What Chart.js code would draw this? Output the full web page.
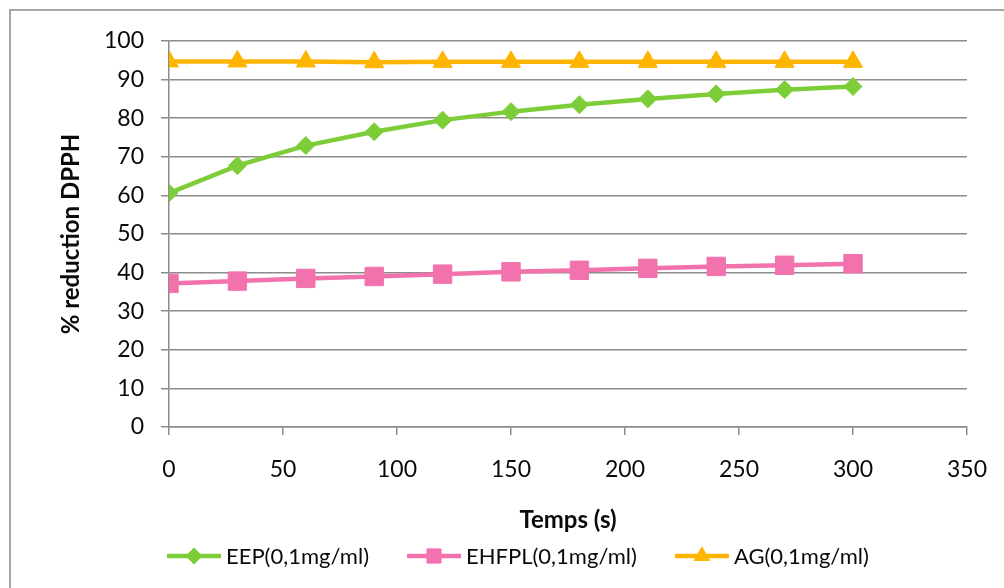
<!DOCTYPE html>
<html>
<head>
<meta charset="utf-8">
<script src="https://cdn.jsdelivr.net/npm/chart.js@4/dist/chart.umd.min.js"></script>
<style>
  html, body { margin: 0; padding: 0; background: #fff; }
  canvas { display: block; }
</style>
</head>
<body>
<canvas id="chart" width="1004" height="588"></canvas>
<script>
// temps (s)
const times = [0, 30, 60, 90, 120, 150, 180, 210, 240, 270, 300];
// % reduction DPPH
const eep = [60.6, 67.7, 72.9, 76.5, 79.5, 81.7, 83.5, 85.0, 86.3, 87.4, 88.2];
const ehfpl = [37.2, 37.8, 38.5, 39.0, 39.6, 40.2, 40.6, 41.1, 41.6, 41.9, 42.3];
const ag = [94.7, 94.7, 94.7, 94.5, 94.6, 94.6, 94.6, 94.6, 94.6, 94.6, 94.6];

const seriesNames = ['EEP(0,1mg/ml)', 'EHFPL(0,1mg/ml)', 'AG(0,1mg/ml)'];
const seriesColors = ['#7dcd39', '#f272ae', '#ffb400'];

const FONT = 'Lato';
const GRID = '#8c8c8c';
const TEXT = '#0a0a0a';

const toPoints = (vals) => times.map((t, i) => ({ x: t, y: vals[i] }));

function marker(ctx, style, x, y, r, color) {
    ctx.fillStyle = color;
    ctx.strokeStyle = color;
    ctx.lineWidth = 1;
    if (Chart.helpers && Chart.helpers.drawPoint) {
        Chart.helpers.drawPoint(ctx, { pointStyle: style, radius: r, borderWidth: 1, rotation: 0 }, x, y);
    }
}

// outer frame (only left/top edges fall inside the picture)
const frame = {
    id: 'frame',
    beforeDraw(chart) {
        const ctx = chart.ctx;
        ctx.save();
        ctx.strokeStyle = '#a6a6a6';
        ctx.lineWidth = 2;
        ctx.strokeRect(10, 10, 1200, 800);
        ctx.restore();
    }
};

// excel-style legend: line + marker + label
const bottomLegend = {
    id: 'bottomLegend',
    afterDraw(chart) {
        const ctx = chart.ctx;
        ctx.save();
        ctx.font = '22px ' + FONT;
        ctx.textBaseline = 'middle';
        ctx.textAlign = 'left';
        let x = 167;
        const y = 556;
        chart.data.datasets.forEach((ds) => {
            ctx.strokeStyle = ds.borderColor;
            ctx.lineWidth = 4.5;
            ctx.beginPath();
            ctx.moveTo(x, y);
            ctx.lineTo(x + 54, y);
            ctx.stroke();
            const r = ds.pointStyle === 'rect' ? 10 : (ds.pointStyle === 'triangle' ? 9 : 8);
            marker(ctx, ds.pointStyle, x + 27, y, r, ds.borderColor);
            ctx.fillStyle = TEXT;
            ctx.fillText(ds.label, x + 59, y + 1);
            x += 59 + ctx.measureText(ds.label).width + 38;
        });
        ctx.restore();
    }
};

new Chart(document.getElementById('chart'), {
    type: 'line',
    data: {
        datasets: [
            {
                label: seriesNames[0],
                data: toPoints(eep),
                borderColor: seriesColors[0],
                backgroundColor: seriesColors[0],
                borderWidth: 4.5,
                pointStyle: 'rectRot',
                pointRadius: 9,
                pointBorderWidth: 1,
            },
            {
                label: seriesNames[1],
                data: toPoints(ehfpl),
                borderColor: seriesColors[1],
                backgroundColor: seriesColors[1],
                borderWidth: 4.5,
                pointStyle: 'rect',
                pointRadius: 13,
                pointBorderWidth: 1,
            },
            {
                label: seriesNames[2],
                data: toPoints(ag),
                borderColor: seriesColors[2],
                backgroundColor: seriesColors[2],
                borderWidth: 4.5,
                pointStyle: 'triangle',
                pointRadius: 11,
                pointBorderWidth: 1,
            },
        ],
    },
    options: {
        responsive: false,
        devicePixelRatio: 1,
        animation: false,
        elements: {
            line: { tension: 0 },
        },
        layout: {
            padding: { top: 41, right: 37, left: 0, bottom: 52 },
        },
        plugins: {
            legend: { display: false },
            tooltip: { enabled: false },
        },
        scales: {
            x: {
                type: 'linear',
                min: 0,
                max: 350,
                ticks: {
                    stepSize: 50,
                    padding: 21,
                    color: TEXT,
                    font: { family: FONT, size: 23 },
                },
                grid: {
                    drawOnChartArea: false,
                    drawTicks: true,
                    tickLength: 8,
                    color: GRID,
                    lineWidth: 1.5,
                },
                border: { display: true, color: GRID, width: 1.5 },
                title: {
                    display: true,
                    text: 'Temps (s)',
                    color: TEXT,
                    font: { family: FONT, size: 24, weight: 'bold' },
                    padding: { top: 0, bottom: 1 },
                },
                afterFit(scale) {
                    scale.height = 109;
                    scale.paddingLeft = 0;
                    scale.paddingRight = 0;
                },
            },
            y: {
                min: 0,
                max: 100,
                ticks: {
                    stepSize: 10,
                    padding: 17,
                    color: TEXT,
                    font: { family: FONT, size: 23 },
                },
                grid: {
                    drawTicks: true,
                    tickLength: 8,
                    color: GRID,
                    lineWidth: 1.5,
                },
                border: { display: true, color: GRID, width: 1.5 },
                title: {
                    display: true,
                    text: '% reduction DPPH',
                    color: TEXT,
                    font: { family: FONT, size: 24, weight: 'bold' },
                    padding: { top: 57, bottom: 0 },
                },
                afterFit(scale) { scale.width = 169; },
            },
        },
    },
    plugins: [frame, bottomLegend],
});
</script>
</body>
</html>
